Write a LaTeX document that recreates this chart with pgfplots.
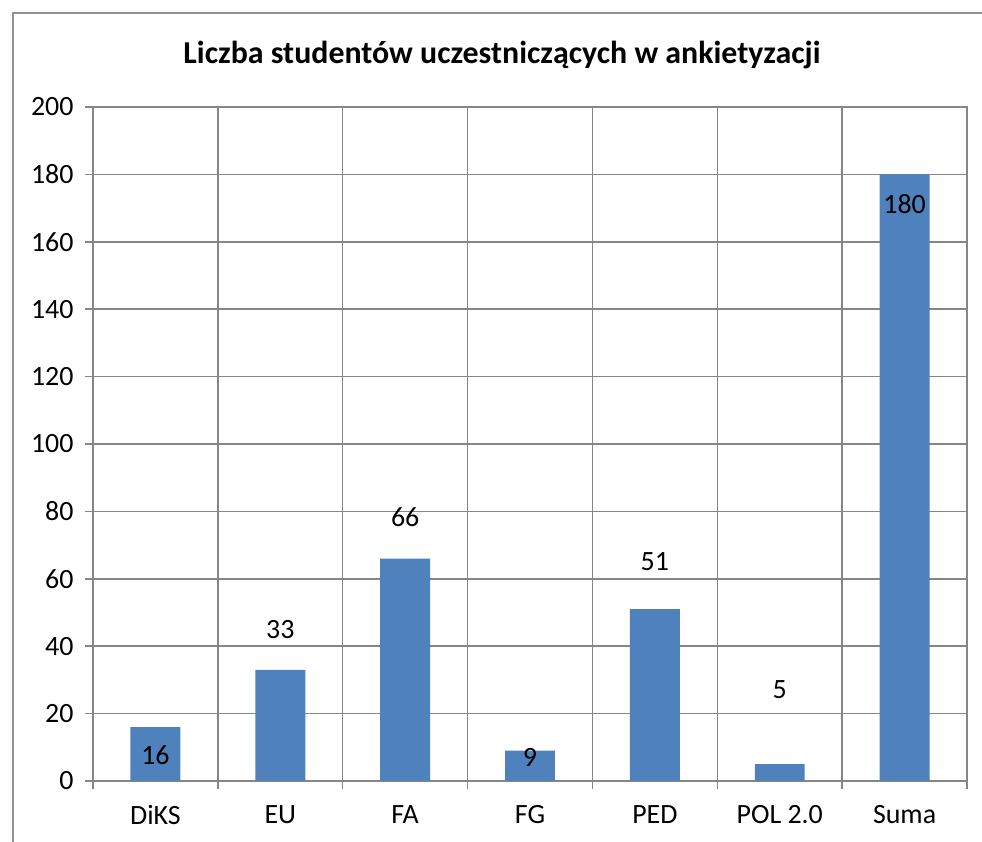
\documentclass[border=0pt]{standalone}
\usepackage{pgfplots}
\pgfplotsset{compat=1.18}
\usepackage{fontspec}
\setmainfont{Carlito}
\definecolor{barblue}{RGB}{79,129,189}
\definecolor{gridgray}{RGB}{134,134,134}
\begin{document}
\begin{tikzpicture}[x=1bp,y=1bp]
\useasboundingbox (0,0) rectangle (982,842);
\draw[gridgray!90, line width=1.5bp] (13,0) -- (13,829) -- (982,829);
\node[font=\fontsize{32}{38}\selectfont\bfseries] at (502,787) {Liczba studentów uczestniczących w ankietyzacji};
\begin{axis}[at={(93bp,61bp)}, anchor=south west, scale only axis,
  width=874bp, height=674bp,
  xmin=-0.5, xmax=6.5, ymin=0, ymax=200,
  ytick={0,20,...,200},
  xtick={0,...,6}, xticklabels={DiKS,EU,FA,FG,PED,POL 2.0,Suma},
  minor xtick={-0.5,0.5,...,6.5},
  ymajorgrids, xminorgrids,
  grid style={gridgray, line width=1.5bp},
  minor grid style={gridgray, line width=1.5bp},
  axis line style={gridgray, line width=1.5bp},
  tick style={gridgray, line width=1.5bp},
  major x tick style={draw=none},
  tick align=outside, major tick length=8bp, minor tick length=8bp,
  xtick pos=bottom, ytick pos=left,
  tick label style={font=\fontsize{28}{33}\selectfont},
  /pgf/number format/assume math mode=true,
  yticklabel style={xshift=-8bp},
  xticklabel style={yshift=-13bp},
]
\addplot[ybar, bar width=0.4, fill=barblue, draw=none] coordinates {(0,16) (1,33) (2,66) (3,9) (4,51) (5,5) (6,180)};
\addplot[draw=none, mark=none, nodes near coords, point meta=explicit symbolic,
  every node near coord/.append style={anchor=center, font=\fontsize{28}{33}\selectfont, text=black}]
  coordinates {(0,7.7) [16] (1,44.8) [33] (2,78.3) [66] (3,7.1) [9] (4,65) [51] (5,27) [5] (6,171.2) [180]};
\end{axis}
\end{tikzpicture}
\end{document}
